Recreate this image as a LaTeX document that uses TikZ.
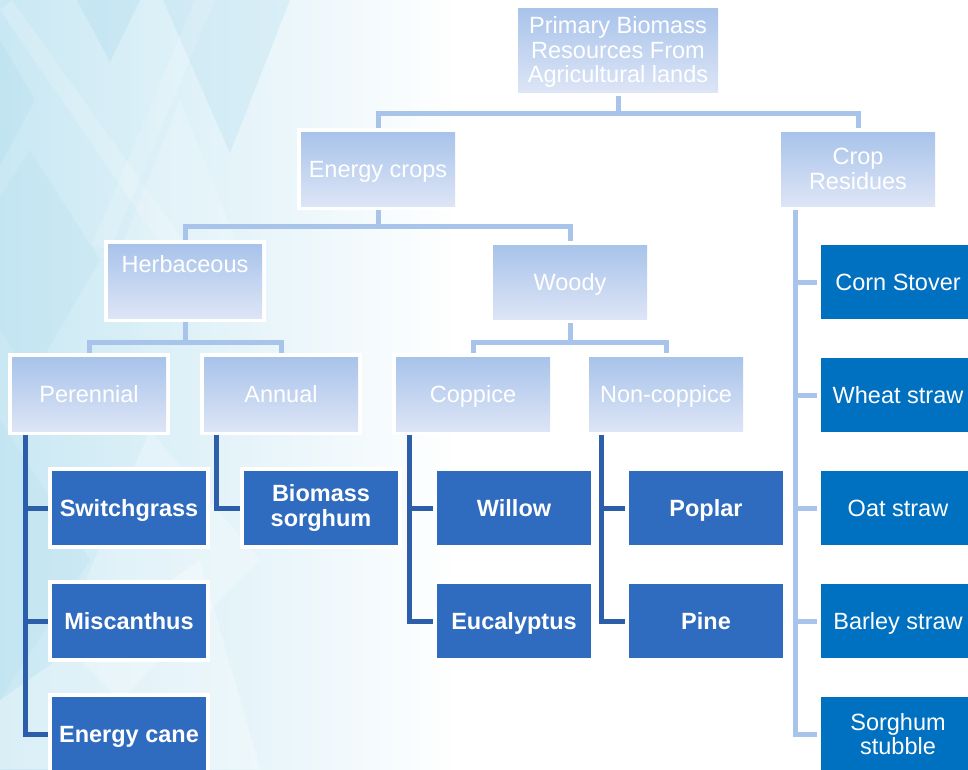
\documentclass[tikz,border=0pt]{standalone}
\usepackage{fontspec}
\setmainfont{Liberation Sans}
\usetikzlibrary{calc}
\definecolor{lbTop}{HTML}{A8C3EA}
\definecolor{lbBot}{HTML}{DDE5F6}
\definecolor{dkbox}{HTML}{2F6BBE}
\definecolor{rtbox}{HTML}{0070C0}
\definecolor{lnLight}{HTML}{A9C4EB}
\definecolor{lnDark}{HTML}{2C5EA9}
\definecolor{bgL}{HTML}{C9E8F3}
\definecolor{bgT}{HTML}{A9D9EE}
\pgfdeclarelayer{bg}\pgfdeclarelayer{edges}\pgfsetlayers{bg,edges,main}
\begin{document}
\begin{tikzpicture}[x=1pt,y=-1pt,
  every node/.style={font=\fontsize{23.5}{24.5}\selectfont, text=white, align=center, inner sep=0pt},
  one/.style={text height=21.3pt, text depth=5pt},
  rim/.style={preaction={draw=white,line width=8pt}},
  lightbox/.style={rim, top color=lbTop, bottom color=lbBot, minimum width=154pt, minimum height=74pt},
  darkbox/.style={rim, fill=dkbox, minimum width=154pt, minimum height=74pt, font=\fontsize{23.5}{24.5}\selectfont\bfseries},
  rightbox/.style={rim, fill=rtbox, minimum width=154pt, minimum height=74pt},
  lightline/.style={draw=lnLight, line width=5pt},
  darkline/.style={draw=lnDark, line width=5pt}]
\useasboundingbox (0,0) rectangle (968,769);
\clip (0,0) rectangle (968,769);

% background pattern
\begin{pgfonlayer}{bg}
\fill[white] (0,0) rectangle (968,769);
\shade[left color=bgL, right color=white] (0,0) rectangle (460,769);
\fill[bgT, opacity=.30] (77,0) -- (140,0) -- (110,62) -- cycle;
\fill[bgT, opacity=.25] (163,0) -- (290,0) -- (230,153) -- cycle;
\fill[bgT, opacity=.22] (0,40) -- (35,100) -- (0,165) -- cycle;
\fill[white, opacity=.18] (0,10) -- (12,0) -- (190,250) -- (175,265) -- cycle;
\fill[white, opacity=.15] (195,0) -- (215,0) -- (110,250) -- (92,245) -- cycle;
\fill[bgT, opacity=.18] (30,150) -- (100,260) -- (30,380) -- (-40,260) -- cycle;
\fill[white, opacity=.18] (180,100) -- (240,250) -- (120,250) -- cycle;
\fill[bgT, opacity=.18] (0,420) -- (90,560) -- (0,700) -- cycle;
\fill[white, opacity=.25] (150,430) -- (260,560) -- (120,700) -- (60,640) -- cycle;
\fill[white, opacity=.3] (0,700) -- (200,560) -- (260,769) -- (0,769) -- cycle;
\end{pgfonlayer}

% boxes
\node[lightbox, minimum width=200pt, minimum height=84pt, text height=70.3pt, text depth=5pt] (prim) at (618,50) {Primary Biomass\\Resources From\\Agricultural lands};
\node[lightbox, one] (ec) at (378,169) {Energy crops};
\node[lightbox] (cr) at (858,169) {Crop\\Residues};
\node[lightbox, label={[anchor=north, yshift=-11pt]north:Herbaceous}] (herb) at (185,281) {};
\node[lightbox, one] (woody) at (570,282) {Woody};
\node[lightbox, one] (per) at (89,394) {Perennial};
\node[lightbox, one] (ann) at (281,394) {Annual};
\node[lightbox, one] (cop) at (473,394) {Coppice};
\node[lightbox, one] (nc) at (666,394) {Non-coppice};

\node[darkbox, one] (sw) at (129,508) {Switchgrass};
\node[darkbox, one] (mis) at (129,621) {Miscanthus};
\node[darkbox, one] (cane) at (129,734) {Energy cane};
\node[darkbox] (bs) at (321,508) {Biomass\\sorghum};
\node[darkbox, one] (wil) at (514,508) {Willow};
\node[darkbox, one] (euc) at (514,621) {Eucalyptus};
\node[darkbox, one] (pop) at (706,508) {Poplar};
\node[darkbox, one] (pine) at (706,621) {Pine};

\node[rightbox, one] (corn) at (898,282) {Corn Stover};
\node[rightbox, one] (wheat) at (898,395) {Wheat straw};
\node[rightbox, one] (oat) at (898,508) {Oat straw};
\node[rightbox, one] (barley) at (898,621) {Barley straw};
\node[rightbox] (stub) at (898,734) {Sorghum\\stubble};

% connectors
\begin{pgfonlayer}{edges}
\coordinate (b1) at (618,113);
\coordinate (b2) at (378,226);
\coordinate (b3) at (185,342);
\coordinate (b4) at (570,342);
\draw[lightline] (prim.south) -- (b1);
\draw[lightline] (ec.north) |- (b1) -| (cr.north);
\draw[lightline] (ec.south) -- (b2);
\draw[lightline] (herb.north) |- (b2) -| (woody.north);
\draw[lightline] (herb.south) -- (b3);
\draw[lightline] (per.north) |- (b3) -| (ann.north);
\draw[lightline] (woody.south) -- (b4);
\draw[lightline] (cop.north) |- (b4) -| (nc.north);

\coordinate (cv) at (795,206);
\draw[lightline] (cv) |- (stub.west);
\draw[lightline] (cv |- corn.west) -- (corn.west);
\draw[lightline] (cv |- wheat.west) -- (wheat.west);
\draw[lightline] (cv |- oat.west) -- (oat.west);
\draw[lightline] (cv |- barley.west) -- (barley.west);

\coordinate (pv) at (25,432);
\draw[darkline] (pv) |- (cane.west);
\draw[darkline] (pv |- sw.west) -- (sw.west);
\draw[darkline] (pv |- mis.west) -- (mis.west);

\coordinate (av) at (216,432);
\draw[darkline] (av) |- (bs.west);

\coordinate (kv) at (409,432);
\draw[darkline] (kv) |- (euc.west);
\draw[darkline] (kv |- wil.west) -- (wil.west);

\coordinate (nv) at (601,432);
\draw[darkline] (nv) |- (pine.west);
\draw[darkline] (nv |- pop.west) -- (pop.west);
\end{pgfonlayer}
\end{tikzpicture}
\end{document}
